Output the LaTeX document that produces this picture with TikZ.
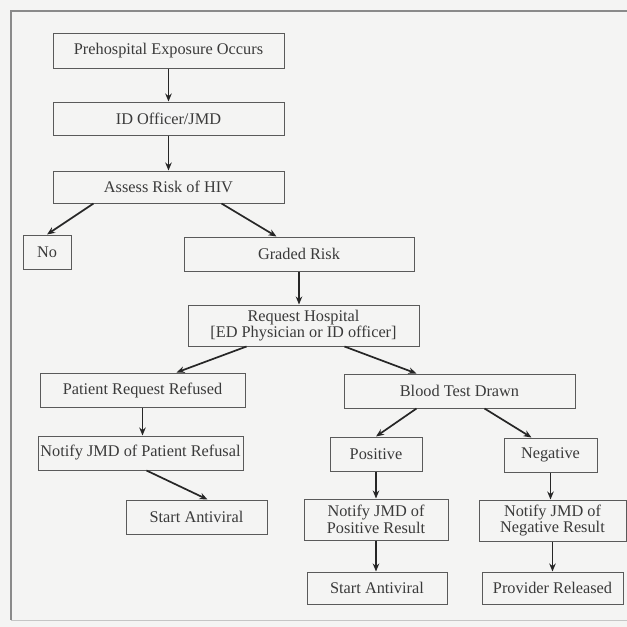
\documentclass[tikz,border=0pt]{standalone}
\usepackage{fontspec}
\setmainfont{Liberation Serif}
\usetikzlibrary{calc,arrows.meta}
\definecolor{bg}{HTML}{F4F4F3}
\definecolor{frame}{HTML}{8A8A8A}
\definecolor{boxline}{HTML}{5A5A5A}
\definecolor{ink}{HTML}{3A3A3A}
\definecolor{arrowc}{HTML}{262626}
\tikzset{
  fbox/.style={draw=boxline, line width=1pt, text=ink, inner sep=0pt, align=center,
    font=\fontsize{16.3}{16.5}\selectfont},
  conn/.style={draw=arrowc, line width=1.7pt, -{Stealth[length=8pt,width=6.5pt]}},
}
\begin{document}
\begin{tikzpicture}[x=1pt,y=-1pt]
\fill[bg] (0,0) rectangle (627,627);
\useasboundingbox (0,0) rectangle (627,627);
\draw[frame, line width=1.3pt] (640,11) -- (11,11) -- (11,620);
\draw[frame!50, line width=0.8pt] (11,620) -- (640,620);
% nodes
\node[fbox, minimum width=231, minimum height=35] (pre) at (168.5,50.5) {Prehospital Exposure Occurs};
\node[fbox, minimum width=231, minimum height=33] (id) at (168.5,118.5) {ID Officer/JMD};
\node[fbox, minimum width=231, minimum height=32] (assess) at (168.5,187) {Assess Risk of HIV};
\node[fbox, minimum width=48, minimum height=34] (no) at (47,252) {No};
\node[fbox, minimum width=230, minimum height=34] (graded) at (299,254) {Graded Risk};
\node[fbox, minimum width=231, minimum height=41] (req) at (303.5,325.5) {Request Hospital\\{[}ED Physician or ID officer{]}};
\node[fbox, minimum width=205, minimum height=34] (prr) at (142.5,390) {Patient Request Refused};
\node[fbox, minimum width=205, minimum height=34] (njp) at (140.5,453) {Notify JMD of Patient Refusal};
\node[fbox, minimum width=141, minimum height=34] (sa1) at (196.5,517) {Start Antiviral};
\node[fbox, minimum width=231, minimum height=34] (blood) at (459.5,391) {Blood Test Drawn};
\node[fbox, minimum width=92, minimum height=34] (pos) at (376,454) {Positive};
\node[fbox, minimum width=93, minimum height=34] (neg) at (550.5,455) {Negative};
\node[fbox, minimum width=144, minimum height=41] (njpos) at (376,519.5) {Notify JMD of\\Positive Result};
\node[fbox, minimum width=147, minimum height=41] (njneg) at (552.5,520.5) {Notify JMD of\\Negative Result};
\node[fbox, minimum width=140, minimum height=32] (sa2) at (377,588) {Start Antiviral};
\node[fbox, minimum width=141, minimum height=32] (prov) at (552.5,588) {Provider Released};
% connectors
\draw[conn] (pre.south) -- (pre.south |- id.north);
\draw[conn] (id.south) -- (id.south |- assess.north);
\draw[conn] ($(assess.south west)+(41,0)$) -- (no.north);
\draw[conn] ($(assess.south west)+(169,0)$) -- ($(graded.north west)+(93,0)$);
\draw[conn] (graded.south) -- (graded.south |- req.north);
\draw[conn] ($(req.south west)+(59,0)$) -- ($(prr.north west)+(137,0)$);
\draw[conn] ($(req.south west)+(157,0)$) -- ($(blood.north west)+(73,0)$);
\draw[conn] (prr.south) -- (prr.south |- njp.north);
\draw[conn] ($(njp.south west)+(109,0)$) -- ($(sa1.north west)+(82,0)$);
\draw[conn] ($(blood.south west)+(73,0)$) -- (pos.north);
\draw[conn] ($(blood.south west)+(141,0)$) -- ($(neg.north west)+(28,0)$);
\draw[conn] (pos.south) -- (pos.south |- njpos.north);
\draw[conn] (njpos.south) -- (njpos.south |- sa2.north);
\draw[conn] (neg.south) -- (neg.south |- njneg.north);
\draw[conn] (njneg.south) -- (njneg.south |- prov.north);
\end{tikzpicture}
\end{document}
